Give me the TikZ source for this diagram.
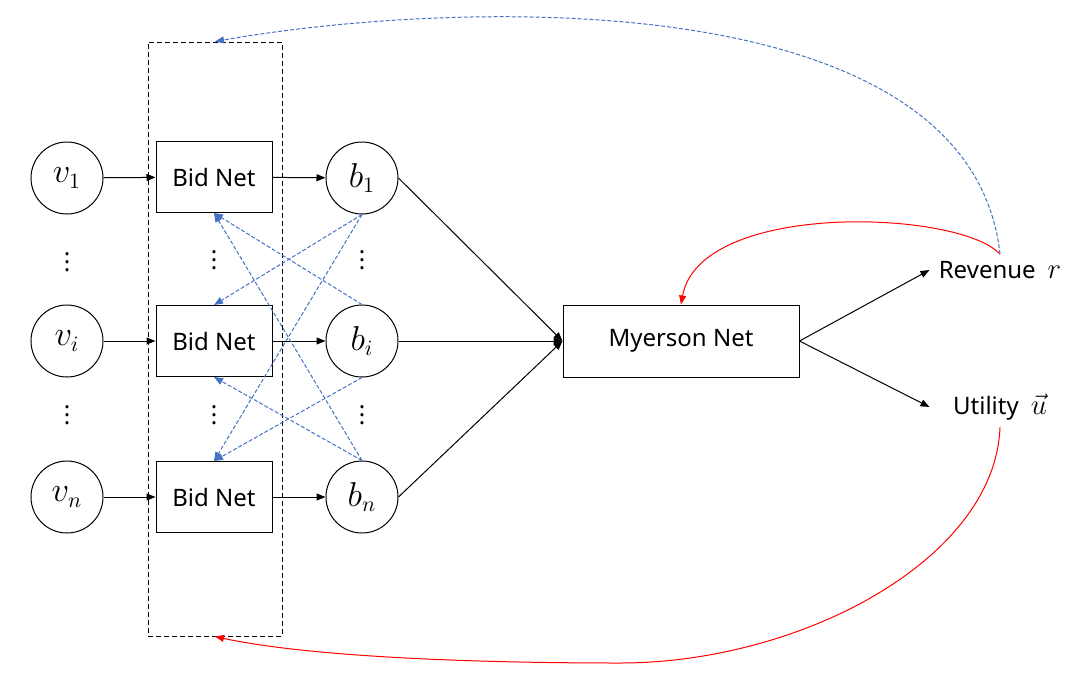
\documentclass[tikz,border=0pt]{standalone}
\usepackage[no-math]{fontspec}
\setmainfont{Noto Sans}
\usepackage{tikz}
\usetikzlibrary{arrows.meta,calc}
\definecolor{fbblue}{RGB}{68,114,196}

\begin{document}
\begin{tikzpicture}[
  x=0.5pt, y=-0.5pt, font=\fontsize{12}{14.4}\selectfont,
  value/.style={circle, draw, minimum size=36pt, inner sep=0pt, font=\fontsize{16}{19}\selectfont},
  bidnet/.style={rectangle, draw, fill=white, minimum width=58pt, minimum height=35.5pt, inner sep=0pt},
  myerson/.style={rectangle, draw, minimum width=118pt, minimum height=36pt, inner sep=0pt},
  frame/.style={rectangle, draw, dash pattern=on 2.5pt off 1.5pt, minimum width=67pt, minimum height=297pt, inner sep=0pt},
  output/.style={minimum width=70pt, inner xsep=0pt},
  dots/.style={inner sep=0pt},
  share/.style={->, fbblue, dash pattern=on 2pt off 1pt},
  >={Triangle[length=4.5pt, width=3.5pt]}, line width=0.5pt
]
  % Bidders' values
  \node[value] (v1) at (67,178) {$v_1$};
  \node[value] (vi) at (67,341) {$v_i$};
  \node[value] (vn) at (67,497) {$v_n$};
  \node[dots] (vd1) at (67,256) {$\vdots$};
  \node[dots] (vd2) at (67,409) {$\vdots$};

  % Bid nets inside the dashed frame
  \node[frame] (frame) at (215,339) {};
  \node[bidnet] (bn1) at (214,177) {Bid Net};
  \node[bidnet] (bni) at (214,341) {Bid Net};
  \node[bidnet] (bnn) at (214,497) {Bid Net};
  \node[dots] (bd1) at (214,254) {$\vdots$};
  \node[dots] (bd2) at (214,409) {$\vdots$};

  % Bids
  \node[value] (b1) at (362,178) {$b_1$};
  \node[value] (bi) at (362,341) {$b_i$};
  \node[value] (bn) at (362,497) {$b_n$};
  \node[dots] (bbd1) at (362,254) {$\vdots$};
  \node[dots] (bbd2) at (362,409) {$\vdots$};

  % Mechanism and outputs
  \node[myerson] (mn) at (681,341) {Myerson Net};
  \node[output] (rev) at (1000,270) {Revenue\enspace{\fontsize{14}{17}\selectfont$r$}};
  \node[output] (util) at (1000,407) {Utility\enspace{\fontsize{14}{17}\selectfont$\vec{u}$}};
  \coordinate (low) at (620,663);

  % Forward pass
  \draw[->] (v1) -- (bn1);
  \draw[->] (vi) -- (bni);
  \draw[->] (vn) -- (bnn);
  \draw[->] (bn1) -- (b1);
  \draw[->] (bni) -- (bi);
  \draw[->] (bnn) -- (bn);
  \draw[->] (b1.east) -- (mn.west);
  \draw[->] (bi.east) -- (mn.west);
  \draw[->] (bn.east) -- (mn.west);
  \draw[->] (mn.east) -- (rev.west);
  \draw[->] (mn.east) -- (util.west);

  % Bids passed to the other bid nets
  \draw[share] (b1.south) -- (bni.north);
  \draw[share] (b1.south) -- (bnn.north);
  \draw[share] (bi.north) -- (bn1.south);
  \draw[share] (bi.south) -- (bnn.north);
  \draw[share] (bn.north) -- (bn1.south);
  \draw[share] (bn.north) -- (bni.south);

  % Feedback
  \draw[->, red] (rev.north) .. controls (960,210) and (700,200) .. (mn.north);
  \draw[share] (rev.north) .. controls (970,-20) and (450,0) .. (frame.north);
  \draw[->, red] (util.south) .. controls (995,560) and (800,663) .. (low)
    .. controls (450,663) and (300,655) .. (frame.south);

  \pgfresetboundingbox
  \useasboundingbox (0,0) rectangle (1087,681);
\end{tikzpicture}
\end{document}
